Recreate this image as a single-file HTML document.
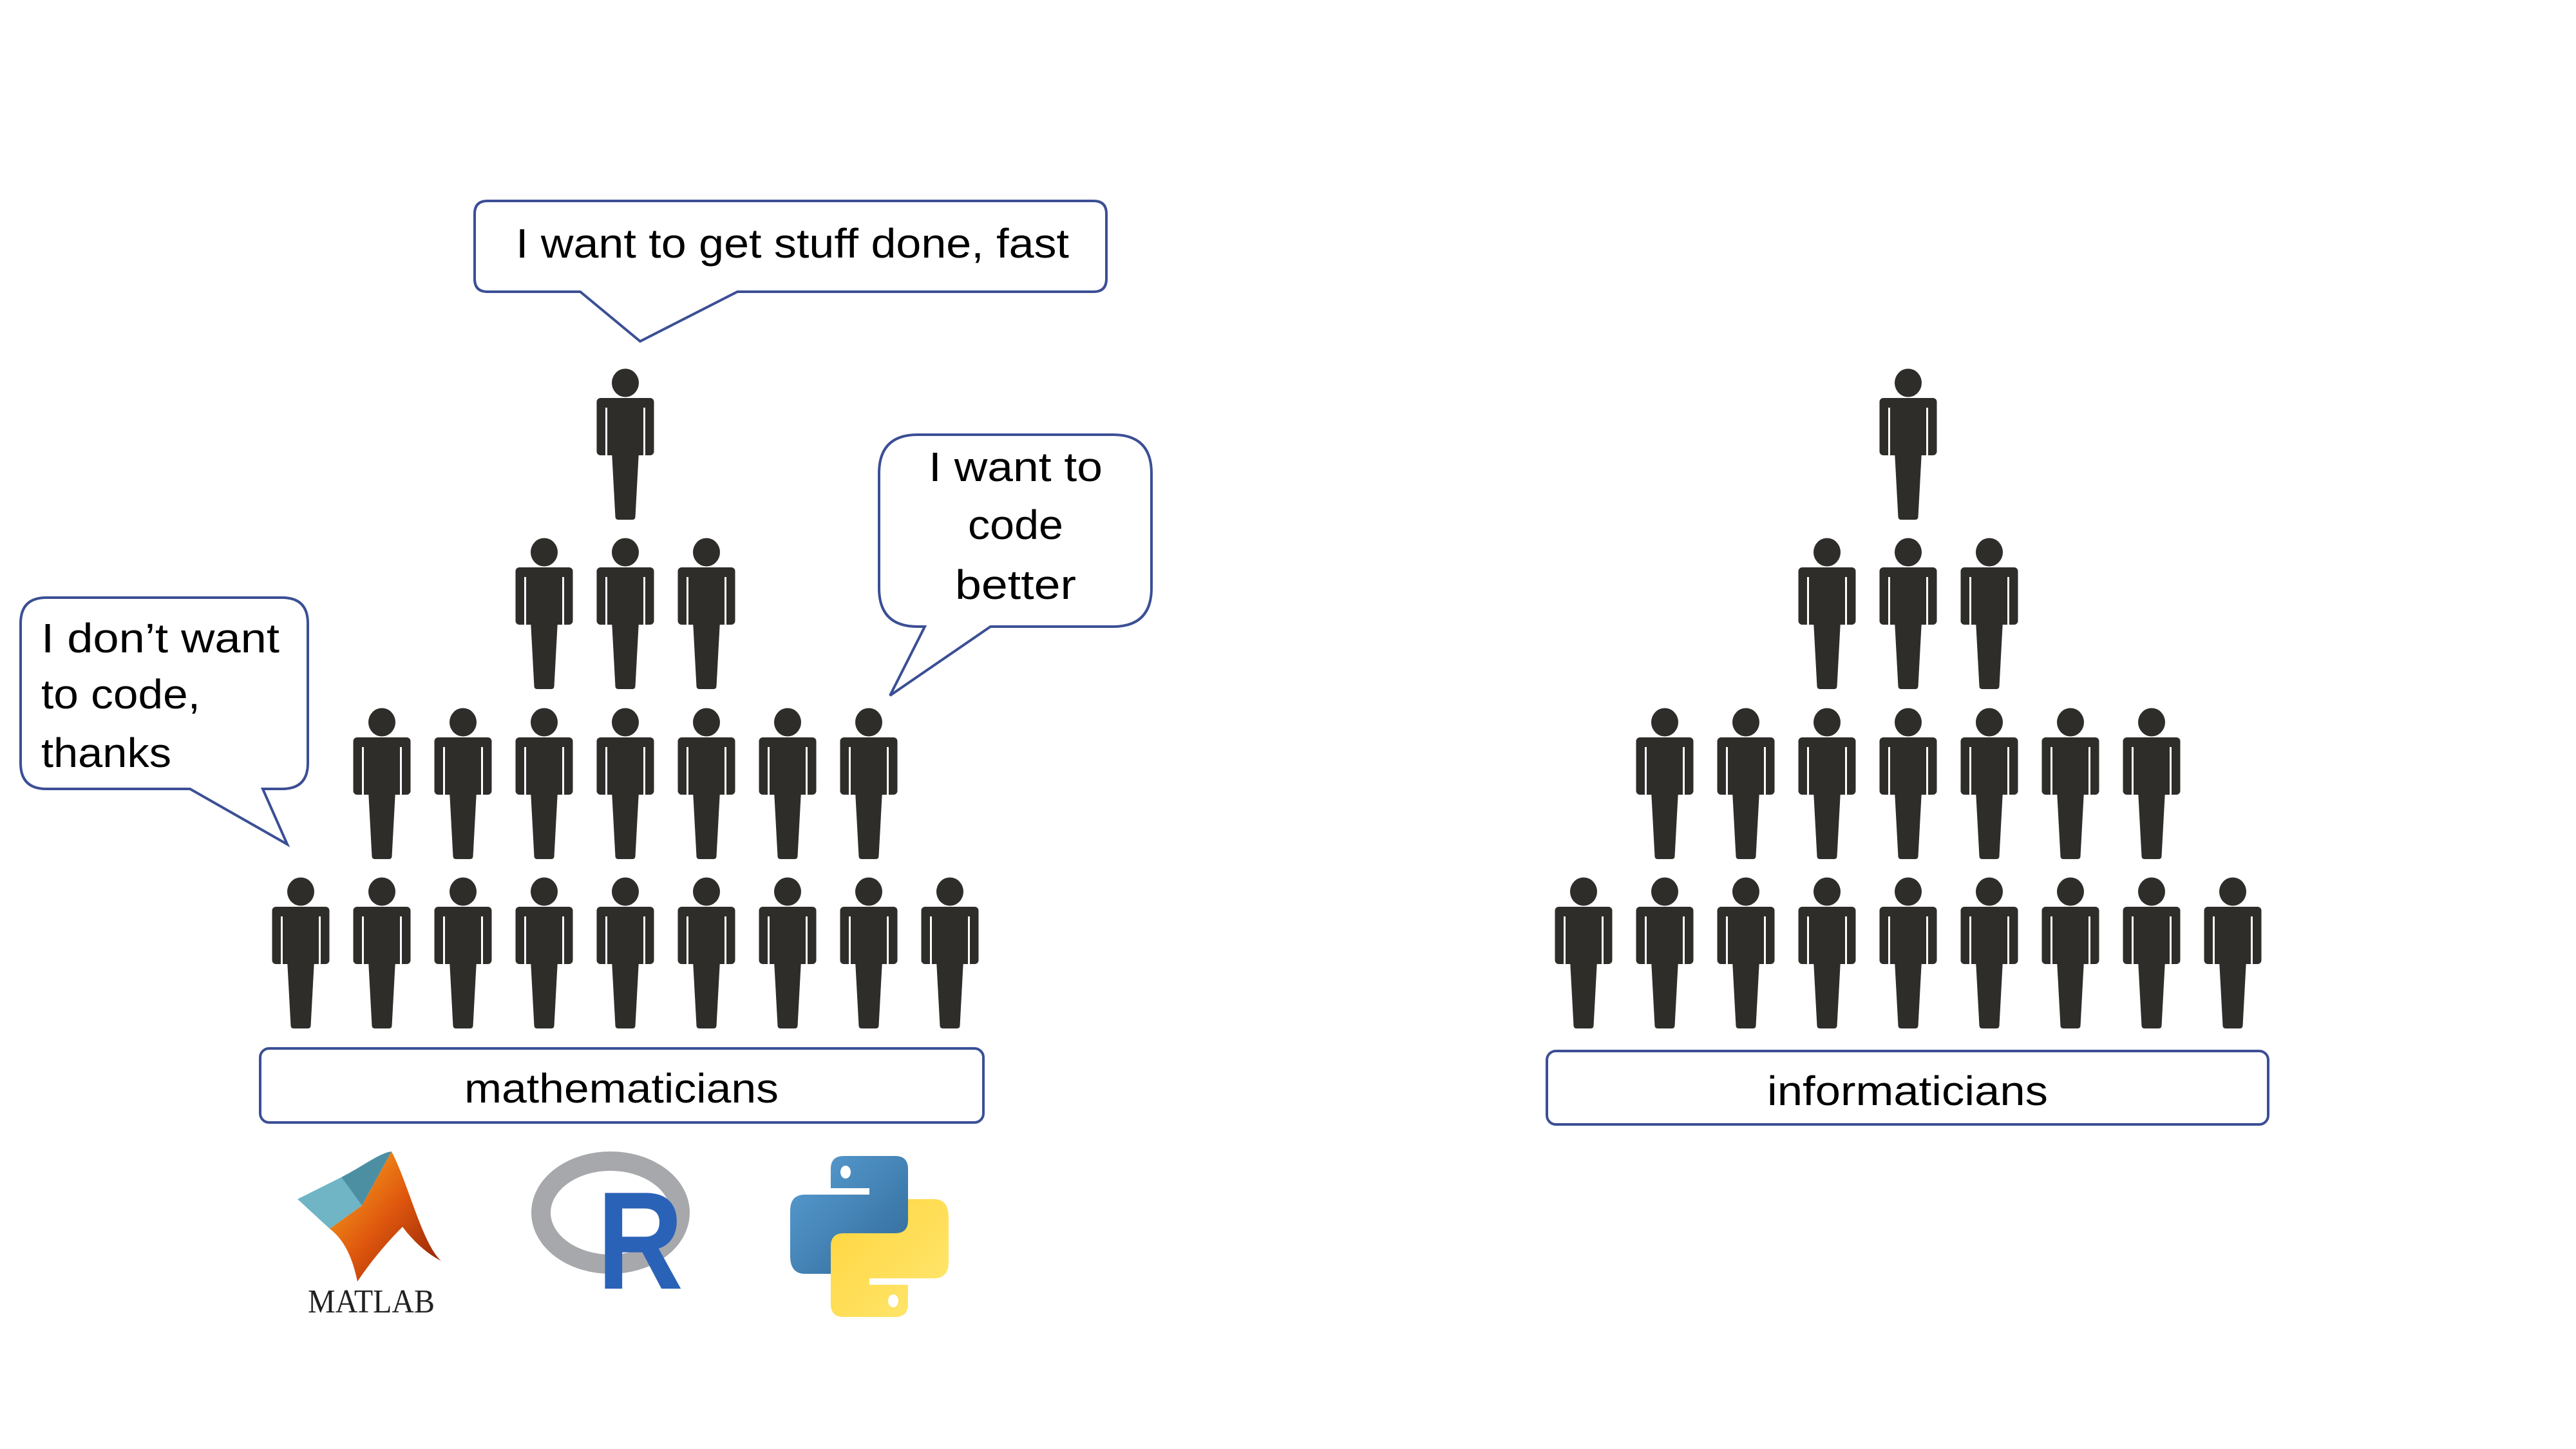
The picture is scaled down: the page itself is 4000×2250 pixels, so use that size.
<!DOCTYPE html>
<html><head><meta charset="utf-8"><style>
html,body{margin:0;padding:0;background:#fff;}
svg{display:block;}
text{font-family:"Liberation Sans",sans-serif;fill:#000;}
</style></head><body>
<svg id="chart" width="4000" height="2250" viewBox="0 0 4000 2250" xmlns="http://www.w3.org/2000/svg">
<defs>
<linearGradient id="mg" x1="0" y1="0" x2="1" y2="1">
<stop offset="0" stop-color="#f8b020"/><stop offset="0.5" stop-color="#e0580e"/><stop offset="1" stop-color="#8a1d06"/>
</linearGradient>
<linearGradient id="pb" x1="0" y1="0" x2="1" y2="1"><stop offset="0" stop-color="#5a9fd4"/><stop offset="1" stop-color="#306998"/></linearGradient>
<linearGradient id="py" x1="0" y1="0" x2="1" y2="1"><stop offset="0" stop-color="#ffe873"/><stop offset="1" stop-color="#ffd43b"/></linearGradient>
</defs>
<g id="people"></g>

<g>
<path d="M757,312 H1698 Q1718,312 1718,332 V433 Q1718,453 1698,453 H1145 L994,530 L901,453 H757 Q737,453 737,433 V332 Q737,312 757,312 Z" fill="#fff" stroke="#3b4f95" stroke-width="4"/>
<text x="801" y="400" font-size="64" textLength="859" lengthAdjust="spacingAndGlyphs">I want to get stuff done, fast</text>
</g>
<g>
<path d="M1425,675 H1728 Q1788,675 1788,735 V913 Q1788,973 1728,973 H1538 L1382,1080 L1436,973 H1425 Q1365,973 1365,913 V735 Q1365,675 1425,675 Z" fill="#fff" stroke="#3b4f95" stroke-width="4"/>
<text x="1577" y="747" font-size="64" text-anchor="middle" textLength="270" lengthAdjust="spacingAndGlyphs">I want to</text>
<text x="1577" y="837" font-size="64" text-anchor="middle" textLength="148" lengthAdjust="spacingAndGlyphs">code</text>
<text x="1577" y="930" font-size="64" text-anchor="middle" textLength="188" lengthAdjust="spacingAndGlyphs">better</text>
</g>
<g>
<path d="M72,928 H438 Q478,928 478,968 V1185 Q478,1225 438,1225 H408 L446,1311 L295,1225 H72 Q32,1225 32,1185 V968 Q32,928 72,928 Z" fill="#fff" stroke="#3b4f95" stroke-width="4"/>
<text x="64" y="1013" font-size="64" textLength="370" lengthAdjust="spacingAndGlyphs">I don’t want</text>
<text x="64" y="1100" font-size="64" textLength="247" lengthAdjust="spacingAndGlyphs">to code,</text>
<text x="64" y="1191" font-size="64" textLength="202" lengthAdjust="spacingAndGlyphs">thanks</text>
</g>

<g>
<rect x="404" y="1628" width="1123" height="115" rx="14" fill="#fff" stroke="#3b4f95" stroke-width="4"/>
<text x="965" y="1712" font-size="64" text-anchor="middle" textLength="488" lengthAdjust="spacingAndGlyphs">mathematicians</text>
</g>
<g>
<rect x="2402" y="1632" width="1120" height="114" rx="14" fill="#fff" stroke="#3b4f95" stroke-width="4"/>
<text x="2962" y="1716" font-size="64" text-anchor="middle" textLength="436" lengthAdjust="spacingAndGlyphs">informaticians</text>
</g>

<g>
<path d="M462,1862 L530,1828 L562,1872 L512,1908 Z" fill="#6fb5c6"/>
<path d="M530,1828 C565,1810 590,1790 608,1788 L562,1872 Z" fill="#4c8fa3"/>
<path d="M608,1788 C635,1840 655,1930 685,1958 C660,1945 640,1925 625,1905 C600,1930 575,1960 555,1990 C548,1955 535,1925 512,1908 L562,1872 Z" fill="url(#mg)"/>
<text x="478" y="2038" style="font-family:'Liberation Serif',serif;fill:#222" font-size="52" textLength="197" lengthAdjust="spacingAndGlyphs">MATLAB</text>
</g>
<g>
<ellipse cx="948" cy="1883" rx="108" ry="80" fill="none" stroke="#a7a8ac" stroke-width="30"/>
<text x="927" y="2001" font-size="216" font-weight="bold" textLength="134" lengthAdjust="spacingAndGlyphs" style="fill:#2a62b8">R</text>
</g>
<g>
<path d="M1310,1795 H1390 Q1410,1795 1410,1815 V1905 Q1410,1925 1390,1925 H1310 Q1290,1925 1290,1945 V1978 H1250 Q1227,1978 1227,1950 V1880 Q1227,1855 1250,1855 H1350 V1845 H1290 V1815 Q1290,1795 1310,1795 Z" fill="url(#pb)"/>
<g transform="rotate(180 1350 1920)">
<path d="M1310,1795 H1390 Q1410,1795 1410,1815 V1905 Q1410,1925 1390,1925 H1310 Q1290,1925 1290,1945 V1978 H1250 Q1227,1978 1227,1950 V1880 Q1227,1855 1250,1855 H1350 V1845 H1290 V1815 Q1290,1795 1310,1795 Z" fill="url(#py)"/>
</g>
<ellipse cx="1313" cy="1820" rx="8" ry="10" fill="#fff"/>
<ellipse cx="1387" cy="2020" rx="8" ry="10" fill="#fff"/>
</g>
</svg>
<script>
// row sizes of each pyramid (top to bottom)
const rowCounts = [1, 3, 7, 9];
const pyramidNames = ["mathematicians", "informaticians"];
const pyramidCenters = [971, 2963];
const rowTops = [573, 836, 1100, 1363];
const colStep = 126;
const NS = "http://www.w3.org/2000/svg";
const g = document.getElementById("people");
const col = "#2f2d2a";
function mk(tag, attrs, parent){
  const e = document.createElementNS(NS, tag);
  for (const k in attrs) e.setAttribute(k, attrs[k]);
  parent.appendChild(e); return e;
}
function person(cx, y0, parent){
  const p = document.createElementNS(NS, "g");
  
  
  parent.appendChild(p);
  mk("ellipse", {cx: cx, cy: y0 + 21.5, rx: 21, ry: 22, fill: col}, p);
  mk("rect", {x: cx - 44.5, y: y0 + 45, width: 89, height: 89, rx: 6, fill: col}, p);
  mk("rect", {x: cx - 31, y: y0 + 60, width: 3, height: 75, fill: "#fff"}, p);
  mk("rect", {x: cx + 28, y: y0 + 60, width: 3, height: 75, fill: "#fff"}, p);
  mk("path", {d: `M${cx-21},${y0+128} H${cx+21} L${cx+15.5},${y0+230} Q${cx+15},${y0+234} ${cx+11},${y0+234} H${cx-11} Q${cx-15},${y0+234} ${cx-15.5},${y0+230} Z`, fill: col}, p);
}
pyramidCenters.forEach((c, pi) => {
  const pg = document.createElementNS(NS, "g");
  
  
  g.appendChild(pg);
  rowCounts.forEach((n, ri) => {
    for (let i = 0; i < n; i++) {
      person(c + (i - (n - 1) / 2) * colStep, rowTops[ri], pg);
    }
  });
});
</script>
</body></html>
